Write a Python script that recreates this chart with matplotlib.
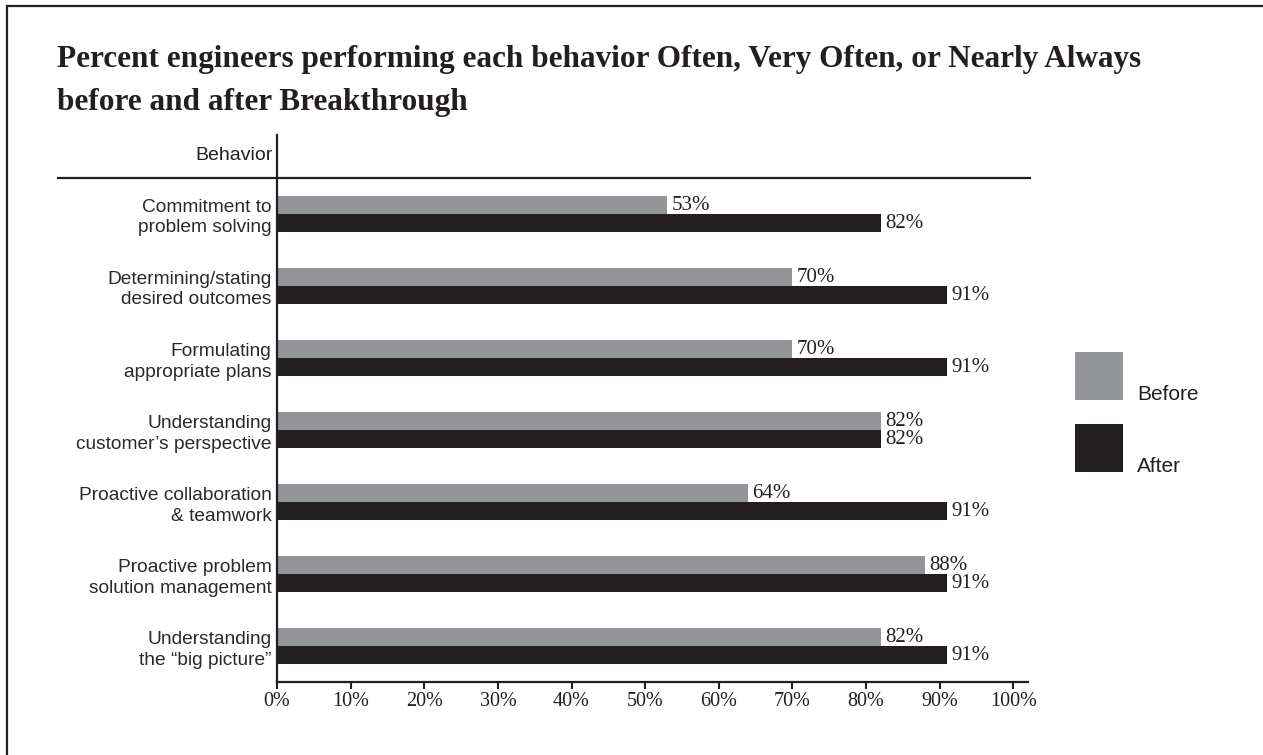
import numpy as np
import matplotlib
matplotlib.use('Agg')
from matplotlib import pyplot as plt
from matplotlib.patches import Rectangle
from matplotlib.lines import Line2D

# Survey results: share of engineers doing each behavior often or more
behaviors = ['Commitment to\nproblem solving',
             'Determining/stating\ndesired outcomes',
             'Formulating\nappropriate plans',
             'Understanding\ncustomer\u2019s perspective',
             'Proactive collaboration\n& teamwork',
             'Proactive problem\nsolution management',
             'Understanding\nthe \u201cbig picture\u201d']
before = [53, 70, 70, 82, 64, 88, 82]
after = [82, 91, 91, 82, 91, 91, 91]
xticks = np.arange(0, 101, 10)

GRAY = '#939598'
BLACK = '#231f20'
SANS = 'Liberation Sans'
SERIF = 'Liberation Serif'

W, H = 1263, 755
fig = plt.figure(figsize=(W / 100, H / 100), dpi=100)

def fx(px):
    return px / W

def fy(py):
    return 1 - py / H

ax = fig.add_axes([fx(277), fy(682), fx(1028) - fx(277), fy(135) - fy(682)])

y = np.arange(len(behaviors))
bh = 0.25
ax.barh(y - bh / 2, before, height=bh, color=GRAY, linewidth=0)
ax.barh(y + bh / 2, after, height=bh, color=BLACK, linewidth=0)

# value labels at the end of each bar
for yy, b, a in zip(y, before, after):
    ax.annotate(f'{b}%', (b, yy - bh / 2), xytext=(3, -0.5), textcoords='offset points',
                va='center', ha='left', fontsize=15, family=SERIF, color=BLACK)
    ax.annotate(f'{a}%', (a, yy + bh / 2), xytext=(3, -0.5), textcoords='offset points',
                va='center', ha='left', fontsize=15, family=SERIF, color=BLACK)

ax.set_xlim(0, 102)
ax.set_ylim(6.5, -1.097)
ax.set_xticks(xticks)
ax.set_xticklabels([f'{t}%' for t in xticks], family=SERIF, fontsize=14.5, color=BLACK)
ax.set_yticks(y)
ax.set_yticklabels(behaviors, family=SANS, fontsize=13.8, color='#2b2829', linespacing=1.27)
ax.tick_params(axis='x', direction='out', length=5, width=1.5, color=BLACK, pad=2)
ax.tick_params(axis='y', length=0, pad=4)

for s in ['top', 'right']:
    ax.spines[s].set_visible(False)
for s in ['left', 'bottom']:
    ax.spines[s].set_linewidth(1.6)
    ax.spines[s].set_color(BLACK)

# header row
fig.text(fx(273), fy(155), 'Behavior', ha='right', va='center',
         family=SANS, fontsize=14, color=BLACK)
fig.add_artist(Line2D([fx(58), fx(1030)], [fy(178), fy(178)], color=BLACK, lw=1.6))

# title
fig.text(fx(57), fy(67), 'Percent engineers performing each behavior Often, Very Often, or Nearly Always',
         ha='left', va='baseline', family=SERIF, fontweight='bold', fontsize=22.5, color=BLACK)
fig.text(fx(57), fy(110), 'before and after Breakthrough',
         ha='left', va='baseline', family=SERIF, fontweight='bold', fontsize=22.5, color=BLACK)

# legend swatches
for top, col, name in [(352, GRAY, 'Before'), (424, BLACK, 'After')]:
    fig.add_artist(Rectangle((fx(1075), fy(top + 48)), fx(48), 48 / H,
                             facecolor=col, edgecolor='none'))
    fig.text(fx(1137), fy(top + 48), name, ha='left', va='baseline',
             family=SANS, fontsize=15, color=BLACK)

# frame along top and left edges
fig.add_artist(Line2D([fx(7), 1], [fy(6), fy(6)], color=BLACK, lw=1.6))
fig.add_artist(Line2D([fx(7), fx(7)], [fy(6), 0], color=BLACK, lw=1.6))

fig.savefig('out.png', dpi=100)
